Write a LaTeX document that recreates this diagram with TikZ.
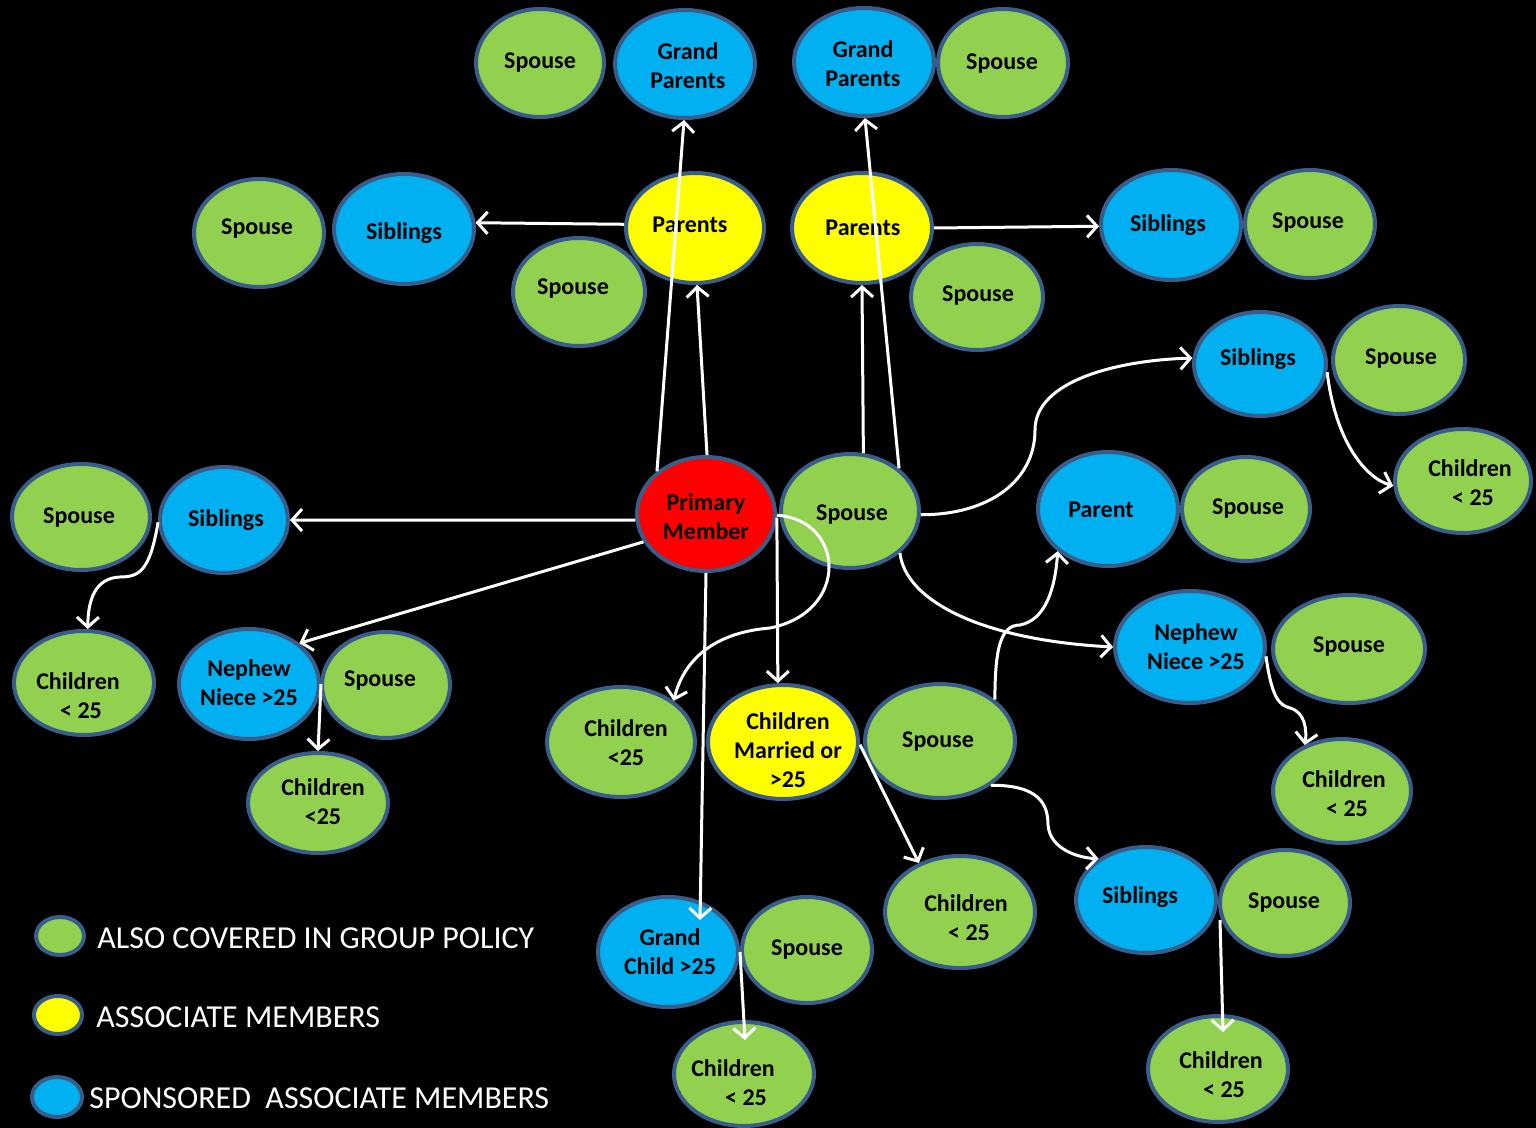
\documentclass[tikz,border=0pt]{standalone}
\usepackage{fontspec}
\setmainfont{Carlito}
\usetikzlibrary{shapes.geometric,arrows.meta,calc}
\definecolor{gr}{HTML}{92D050}
\definecolor{bl}{HTML}{00B0F0}
\definecolor{ye}{HTML}{FFFF00}
\definecolor{rd}{HTML}{FF0000}
\definecolor{bord}{HTML}{385D8A}
% #1 style and size, #2 name, #3 centre, #4 text offset, #5 text
\newcommand\MemNode[5]{%
  \node[#1] (#2) at (#3) {};
  \node[txt] (#2-t) at ($(#3)+(#4)$) {#5};}
\begin{document}
\begin{tikzpicture}[x=0.5pt,y=-0.5pt,
  mem/.style={ellipse, draw=bord, line width=2pt, inner sep=0pt},
  gn/.style={mem, fill=gr}, bn/.style={mem, fill=bl}, yn/.style={mem, fill=ye}, rn/.style={mem, fill=rd},
  sz/.style 2 args={minimum width=#1pt, minimum height=#2pt},
  txt/.style={inner sep=0pt, text=black, align=center, font=\bfseries\fontsize{12}{14.5}\selectfont},
  conn/.style={draw=white, line width=1.5pt, -{Straight Barb[length=5pt,width=11pt]}},
  legtext/.style={anchor=west, inner sep=0pt, text=white, font=\fontsize{16}{19}\selectfont}
]
\fill[black] (0,0) rectangle (1536,1128);
\useasboundingbox (0,0) rectangle (1536,1128);

% top row
\MemNode{gn, sz={64}{54}}{spA}{540,63}{0,0}{Spouse}
\MemNode{bn, sz={70}{54}}{gpL}{685,64}{3,2}{Grand\\Parents}
\MemNode{bn, sz={70}{54}}{gpR}{864,62}{-1,2}{Grand\\Parents}
\MemNode{gn, sz={65}{54}}{spB}{1003,63}{-1,1}{Spouse}
% parents row
\MemNode{gn, sz={65}{54}}{spC}{259,233}{-2,-4}{Spouse}
\MemNode{bn, sz={70}{55}}{sibA}{404,229}{0,4}{Siblings}
\MemNode{yn, sz={69}{55}}{parL}{695,228}{-5,-3}{Parents}
\MemNode{gn, sz={66}{54}}{spD}{579,292}{-6,-3}{Spouse}
\MemNode{yn, sz={70}{55}}{parR}{862,228}{1,0}{Parents}
\MemNode{gn, sz={66}{53}}{spE}{977,297}{1,-1}{Spouse}
\MemNode{bn, sz={70}{55}}{sibB}{1171,225}{-3,0}{Siblings}
\MemNode{gn, sz={65}{54}}{spF}{1310,224}{-2,-1}{Spouse}
% right siblings
\MemNode{bn, sz={66}{52}}{sibC}{1260,364}{-2,-5}{Siblings}
\MemNode{gn, sz={66}{54}}{spG}{1399,360}{2,-1}{Spouse}
\MemNode{gn, sz={68}{52}}{chA}{1463,481}{7,2}{Children\\\hspace*{3pt}< 25}
% middle row
\MemNode{rn, sz={69}{57}}{pm}{706,514}{0,3}{Primary\\Member}
\MemNode{gn, sz={69}{57}}{spPM}{850,511}{2,4}{Spouse}
\MemNode{bn, sz={70}{57}}{par}{1108,509}{-7,1}{Parent}
\MemNode{gn, sz={64}{52}}{spH}{1246,509}{2,0}{Spouse}
\MemNode{gn, sz={69}{53}}{spI}{81,517}{-2,1}{Spouse}
\MemNode{bn, sz={64}{53}}{sibD}{224,520}{2,0}{Siblings}
% left lower
\MemNode{gn, sz={70}{52}}{chB}{84,683}{-6,13}{Children\\\hspace*{3pt}< 25}
\MemNode{bn, sz={70}{55}}{nepL}{249,684}{0,-1}{Nephew\\Niece >25}
\MemNode{gn, sz={64}{53}}{spJ}{386,685}{-6,-4}{Spouse}
\MemNode{gn, sz={70}{50}}{chC}{318,803}{5,-1}{Children\\<25}
% right lower
\MemNode{bn, sz={75}{56}}{nepR}{1190,647}{6,0}{Nephew\\Niece >25}
\MemNode{gn, sz={76}{54}}{spK}{1349,649}{0,-2}{Spouse}
\MemNode{gn, sz={69}{52}}{chD}{1342,791}{2,3}{Children\\\hspace*{3pt}< 25}
% centre lower
\MemNode{gn, sz={74}{55}}{chE}{621,742}{5,1}{Children\\<25}
\MemNode{yn, sz={75}{57}}{cm}{783,742}{5,8}{Children\\Married or\\>25}
\MemNode{gn, sz={75}{57}}{spL}{940,741}{-2,1}{Spouse}
\MemNode{gn, sz={75}{56}}{chF}{960,912}{6,6}{Children\\\hspace*{3pt}< 25}
\MemNode{bn, sz={70}{53}}{sibE}{1146,900}{-6,-3}{Siblings}
\MemNode{gn, sz={65}{53}}{spM}{1285,903}{-1,0}{Spouse}
\MemNode{gn, sz={70}{53}}{chG}{1218,1069}{3,6}{Children\\\hspace*{3pt}< 25}
\MemNode{bn, sz={70}{55}}{gc}{668,952}{2,0}{Grand\\Child >25}
\MemNode{gn, sz={65}{53}}{spN}{807,950}{0,0}{Spouse}
\MemNode{gn, sz={70}{52}}{chH}{744,1074}{-11,9}{Children\\\hspace*{13pt}< 25}

% legend
\node[gn, sz={24}{19}] (lg1) at (60,936) {};
\node[yn, sz={24}{19}] (lg2) at (58,1015) {};
\node[bn, sz={25}{20}] (lg3) at (57,1097) {};
\node[legtext] (lt1) at (97,938) {ALSO COVERED IN GROUP POLICY};
\node[legtext] (lt2) at (96,1017) {ASSOCIATE MEMBERS};
\node[legtext] (lt3) at (89,1098) {SPONSORED\ \ ASSOCIATE MEMBERS};

\coordinate (gcin) at (700,920);
\coordinate (sibEout) at ($(sibE.east)+(2,20)$);
\coordinate (chGin) at ($(chG.north)+(5,18)$);
\coordinate (chHin) at ($(chH.north)+(1,20)$);

% connectors
\draw[conn] (pm.139) -- (gpL.269);
\draw[conn] (pm.89) -- (parL.272);
\draw[conn] (parL.177) -- (sibA.5);
\draw[conn] (spPM.77) -- (parR.270);
\draw[conn] (spPM.41) -- (gpR.271);
\draw[conn] (parR.0) -- (sibB.181);
\draw[conn] (spPM.-3) .. controls (990,515) and (1035,480) .. (1035,430)
   .. controls (1035,380) and (1120,360) .. (sibC.175);
\draw[conn] (sibC.-7) .. controls (1335,440) and (1365,478) .. (chA.184);
\draw[conn] (pm.185) -- (sibD.0);
\draw[conn] (sibD.182) .. controls (150,570) and (140,577) .. (120,577)
   .. controls (95,578) and (88,600) .. (chB.86);
\draw[conn] (pm.204) -- (nepL.39);
\draw[conn] (nepL.0) -- (chC.90);
\draw[conn] (pm.270) -- (gcin);
\draw[conn] (pm.-3) -- (cm.95);
\draw[conn] (pm.-1) .. controls (845,520) and (850,612) .. (770,628)
   .. controls (720,632) and (685,655) .. (chE.38);
\draw[conn] (spPM.-40) .. controls (905,600) and (980,640) .. (nepR.180);
\draw[conn] (spL.37) .. controls (995,650) and (1000,625) .. (1020,625)
   .. controls (1045,620) and (1055,590) .. (par.220);
\draw[conn] (nepR.-7) .. controls (1272,700) and (1280,705) .. (1290,708)
   .. controls (1305,712) and (1307,730) .. (chD.129);
\draw[conn] (cm.-2) -- (chF.130);
\draw[conn] (spL.-41) .. controls (1040,785) and (1048,805) .. (1048,825)
   .. controls (1050,850) and (1080,858) .. (sibE.139);
\draw[conn] (sibEout) -- (chGin);
\draw[conn] (gc.0) -- (chHin);
\end{tikzpicture}
\end{document}
